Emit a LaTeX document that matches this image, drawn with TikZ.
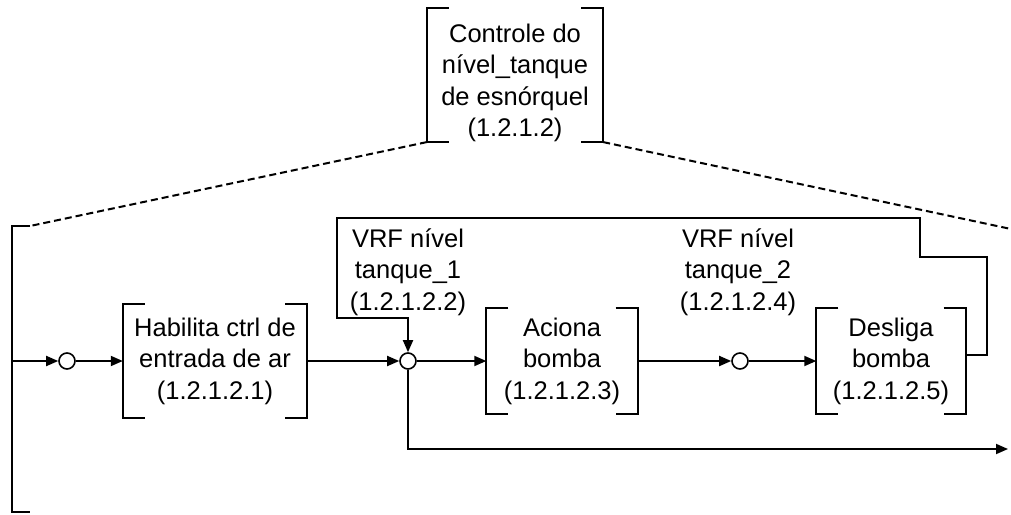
\documentclass[tikz,border=0pt]{standalone}
\usepackage{fontspec}
\setmainfont{Liberation Sans}
\usetikzlibrary{arrows.meta,positioning}

\tikzset{
  brk/.style={inner sep=0pt,align=center},
  junc/.style={circle,draw,fill=white,minimum size=16pt,inner sep=0pt,line width=1.6pt},
  link/.style={line width=1.8pt},
  flow/.style={line width=1.8pt,-{Triangle[length=12pt,width=10pt]}},
  zoomline/.style={line width=2pt,dash pattern=on 7pt off 4pt}
}

\begin{document}
\begin{tikzpicture}[x=1pt,y=-1pt,font=\fontsize{25.5}{31.5}\selectfont]
\useasboundingbox (0,0) rectangle (1011,514);
% Parent activity
\node[brk,minimum width=176pt,minimum height=122pt] (top) at (515,75) {\rule{0pt}{34pt}Controle do\\nível\_tanque\\de esnórquel\\(1.2.1.2)};
% Sub-activities
\node[brk,minimum width=184pt,minimum height=113pt] (hab) at (215,361) {Habilita ctrl de\\entrada de ar\\(1.2.1.2.1)};
\node[brk,minimum width=151pt,minimum height=106pt] (aci) at (562,361) {Aciona\\bomba\\(1.2.1.2.3)};
\node[brk,minimum width=149pt,minimum height=105pt] (des) at (891,361) {Desliga\\bomba\\(1.2.1.2.5)};
% Junctions
\node[junc] (c1) at (67,361) {};
\node[junc] (c2) at (408,361) {};
\node[junc] (c4) at (740,361) {};
% Conditions
\node[align=center] (vrf1) at (408,272) {VRF nível\\tanque\_1\\(1.2.1.2.2)};
\node[align=center] (vrf2) at (738,272) {VRF nível\\tanque\_2\\(1.2.1.2.4)};
% Brackets
\foreach \n in {top,hab,aci,des} {
  \draw[link] ([shift={(22,0)}]\n.north west) -- (\n.north west) -- (\n.south west) -- ([shift={(22,0)}]\n.south west);
  \draw[link] ([shift={(-22,0)}]\n.north east) -- (\n.north east) -- (\n.south east) -- ([shift={(-22,0)}]\n.south east);
}
% Expansion frame
\coordinate (inTop) at (12,226);
\coordinate (inBot) at (12,512);
\coordinate (edgeR) at (1011,229);
\draw[link] ([shift={(18,0)}]inTop) -- (inTop) -- (inBot) -- ([shift={(18,0)}]inBot);
\draw[zoomline] (top.south west) -- ([shift={(18,0)}]inTop);
\draw[zoomline] (top.south east) -- (edgeR);
% Main flow
\draw[flow] (inTop |- c1) -- (c1);
\draw[flow] (c1) -- (hab);
\draw[flow] (hab) -- (c2);
\draw[flow] (c2) -- (aci);
\draw[flow] (aci) -- (c4);
\draw[flow] (c4) -- (des);
% Feedback loop
\coordinate (fbA) at (920,257);
\coordinate (fbB) at (337,218);
\coordinate (fbC) at (337,318);
\draw[flow] ([yshift=6pt]des.east) -- ++(21,0) |- (fbA) |- (fbB) -- (fbC) -- (fbC -| c2) -- (c2);
% Exit
\coordinate (out) at (1008,449);
\draw[flow] (c2) -- (c2 |- out) -- (out);
\end{tikzpicture}
\end{document}
